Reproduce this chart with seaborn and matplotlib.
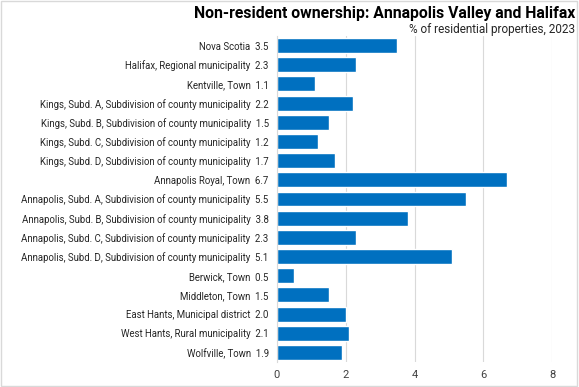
import matplotlib
matplotlib.use("Agg")
import matplotlib.pyplot as plt
import pandas as pd
import seaborn as sns
from matplotlib.patches import Rectangle

regions = [
    "Nova Scotia",
    "Halifax, Regional municipality",
    "Kentville, Town",
    "Kings, Subd. A, Subdivision of county municipality",
    "Kings, Subd. B, Subdivision of county municipality",
    "Kings, Subd. C, Subdivision of county municipality",
    "Kings, Subd. D, Subdivision of county municipality",
    "Annapolis Royal, Town",
    "Annapolis, Subd. A, Subdivision of county municipality",
    "Annapolis, Subd. B, Subdivision of county municipality",
    "Annapolis, Subd. C, Subdivision of county municipality",
    "Annapolis, Subd. D, Subdivision of county municipality",
    "Berwick, Town",
    "Middleton, Town",
    "East Hants, Municipal district",
    "West Hants, Rural municipality",
    "Wolfville, Town",
]
shares = [3.5, 2.3, 1.1, 2.2, 1.5, 1.2, 1.7, 6.7, 5.5, 3.8, 2.3, 5.1, 0.5, 1.5, 2.0, 2.1, 1.9]
x_ticks = [0, 2, 4, 6, 8]

df = pd.DataFrame({"region": regions, "share": shares})
df["label"] = [f"{r}  {v:.1f}" for r, v in zip(regions, shares)]

sns.set_theme(style="white")
plt.rcParams["font.family"] = ["Roboto", "DejaVu Sans"]

fig = plt.figure(figsize=(5.79, 3.87), dpi=100)
ax = fig.add_axes([277 / 579, 1 - 362 / 387, (552 - 277) / 579, (362 - 36) / 387])

sns.barplot(data=df, x="share", y="label", color="#0070C0", saturation=1,
            width=0.78, ax=ax)

ax.set_xlim(0, 8)
ax.set_xticks(x_ticks)
ax.set_xticklabels([str(t) for t in x_ticks], fontsize=8, color="#404040")
ax.tick_params(axis="y", labelsize=6.9, colors="#262626", length=0, pad=6)
ax.tick_params(axis="x", length=0, pad=6)
ax.set_xlabel("")
ax.set_ylabel("")
ax.grid(axis="x", color="#d9d9d9", linewidth=0.8)
ax.set_axisbelow(True)
for side in ["top", "right", "bottom"]:
    ax.spines[side].set_visible(False)
ax.spines["left"].set_color("#d9d9d9")
ax.spines["left"].set_linewidth(0.8)

fig.text(0.993, 0.965, "Non-resident ownership: Annapolis Valley and Halifax",
         ha="right", va="center", fontsize=11.3, fontweight="bold", color="black")
fig.text(0.993, 0.925, "% of residential properties, 2023",
         ha="right", va="center", fontsize=8.5, color="#262626")

fig.patches.append(Rectangle((0.002, 0.003), 0.995, 0.994, transform=fig.transFigure,
                             fill=False, edgecolor="#d9d9d9", linewidth=1))

fig.savefig("out.png", dpi=100)
